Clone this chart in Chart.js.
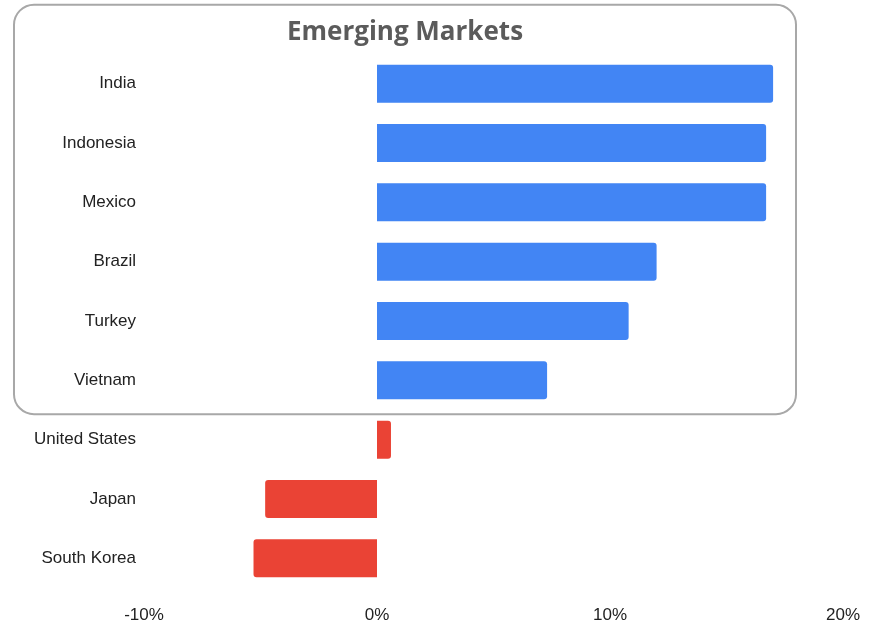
<!DOCTYPE html>
<html>
<head>
<meta charset="utf-8">
<script src="https://cdn.jsdelivr.net/npm/chart.js@4/dist/chart.umd.min.js"></script>
<style>
  html, body { margin: 0; padding: 0; background: #fff; }
  #wrap { width: 870px; height: 625px; position: relative; }
</style>
</head>
<body>
<div id="wrap"><canvas id="chart"></canvas></div>
<script>
const countries = ['India', 'Indonesia', 'Mexico', 'Brazil', 'Turkey', 'Vietnam', 'United States', 'Japan', 'South Korea'];
const returns = [17.0, 16.7, 16.7, 12.0, 10.8, 7.3, 0.6, -4.8, -5.3];
const emerging = ['India', 'Indonesia', 'Mexico', 'Brazil', 'Turkey', 'Vietnam'];
const xTicks = [-10, 0, 10, 20];
const groupTitle = 'Emerging Markets';

const BLUE = '#4285F4';
const RED = '#EA4335';

// rounded frame + heading around the emerging-market rows
const groupBox = {
  id: 'groupBox',
  afterDraw(chart) {
    const { ctx } = chart;
    const y = chart.scales.y;
    const first = y.getPixelForValue(0);
    const last = y.getPixelForValue(emerging.length - 1);
    const step = y.getPixelForValue(1) - first;
    const left = 14, right = 796;
    const top = first - step * 1.33;
    const bottom = last + step * 0.57;
    ctx.save();
    ctx.strokeStyle = '#a8a8a8';
    ctx.lineWidth = 2;
    ctx.beginPath();
    ctx.roundRect(left, top, right - left, bottom - top, 20);
    ctx.stroke();
    ctx.fillStyle = '#5b5b5b';
    ctx.font = '700 26px "Open Sans"';
    ctx.textAlign = 'center';
    ctx.textBaseline = 'alphabetic';
    ctx.fillText(groupTitle, 405, top + 35);
    ctx.restore();
  }
};

new Chart(document.getElementById('chart'), {
  type: 'bar',
  data: {
    labels: countries,
    datasets: [{
      data: returns,
      backgroundColor: countries.map(c => emerging.includes(c) ? BLUE : RED),
      borderRadius: 3,
      barPercentage: 0.64,
      categoryPercentage: 1
    }]
  },
  options: {
    indexAxis: 'y',
    responsive: true,
    maintainAspectRatio: false,
    animation: false,
    layout: { padding: { top: 54, right: 27, bottom: 0, left: 0 } },
    plugins: { legend: { display: false }, tooltip: { enabled: false } },
    scales: {
      x: {
        min: -10, max: 20,
        grid: { display: false },
        border: { display: false },
        afterBuildTicks: axis => { axis.ticks = xTicks.map(v => ({ value: v })); },
        afterFit: axis => { axis.height = 37; },
        ticks: {
          color: '#222',
          padding: 9,
          font: { family: 'Liberation Sans', size: 17 },
          callback: v => v + '%'
        }
      },
      y: {
        grid: { display: false },
        border: { display: false },
        afterFit: axis => { axis.width = 144; },
        ticks: {
          color: '#222',
          padding: 0,
          font: { family: 'Liberation Sans', size: 17 }
        }
      }
    }
  },
  plugins: [groupBox]
});
</script>
</body>
</html>
